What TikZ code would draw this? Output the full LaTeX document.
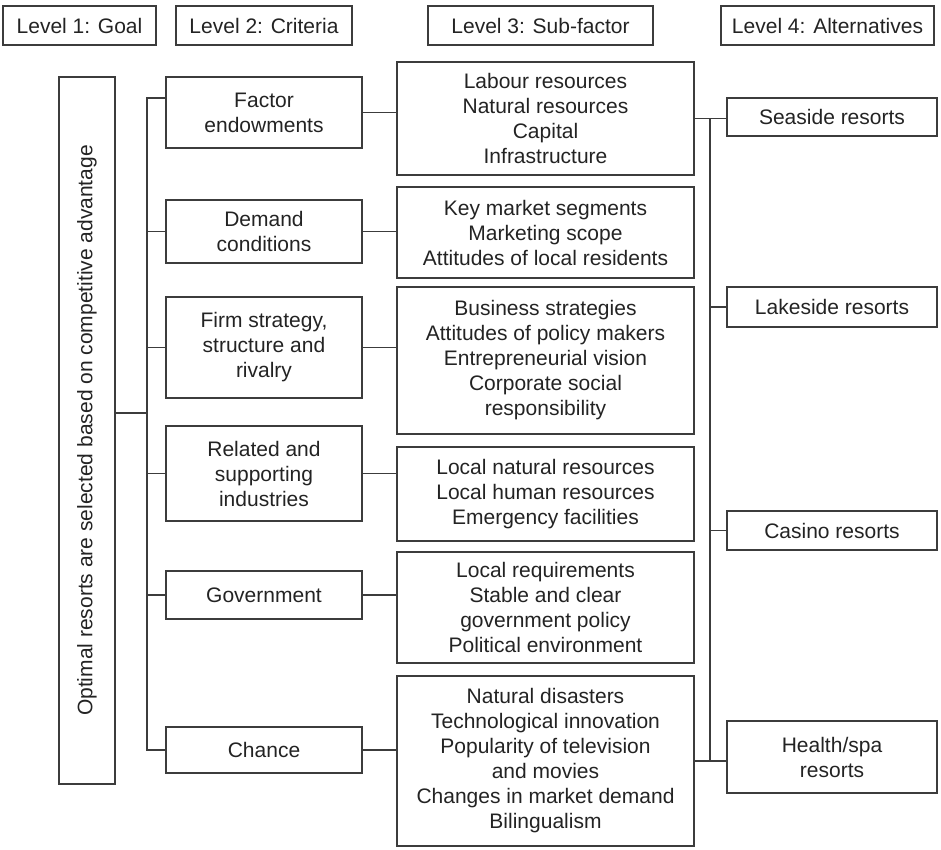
\documentclass[tikz,border=0pt]{standalone}
\usepackage{fontspec}
\setmainfont{Liberation Sans}
\definecolor{lngray}{RGB}{60,60,60}
\definecolor{txgray}{RGB}{35,35,35}
\usetikzlibrary{positioning,calc}

\begin{document}
\begin{tikzpicture}[
  x=1pt,y=-1pt,
  box/.style={draw=lngray,line width=1.1pt,inner sep=0pt,align=center,
    font=\fontsize{21}{25}\selectfont,text=txgray},
  lvl/.style={box,minimum height=39pt},
  crit/.style={box,minimum width=196pt},
  sub/.style={box,minimum width=297pt},
  alt/.style={box,minimum width=210pt},
  link/.style={draw=lngray,line width=1.1pt}
]
  \useasboundingbox (0,0) rectangle (941,849);
  % Level headers
  \node[lvl,minimum width=153pt] (lvl1) at (79.5,25.5) {Level 1: Goal};
  \node[lvl,minimum width=176pt] (lvl2) at (264,25.5) {Level 2: Criteria};
  \node[lvl,minimum width=225pt] (lvl3) at (540.5,25.5) {Level 3: Sub-factor};
  \node[lvl,minimum width=213pt] (lvl4) at (827.5,25.5) {Level 4: Alternatives};
  % Goal
  \node[box,rotate=90,minimum width=707pt,minimum height=56pt] (goal) at (87,430.5)
    {Optimal resorts are selected based on competitive advantage};
  % Criteria
  \node[crit,minimum height=71pt] (crit1) at (264,112.5) {Factor\\endowments};
  \node[crit,minimum height=63pt] (crit2) at (264,231.5) {Demand\\conditions};
  \node[crit,minimum height=101pt] (crit3) at (264,347.5) {Firm strategy,\\structure and\\rivalry};
  \node[crit,minimum height=95pt] (crit4) at (264,473.5) {Related and\\supporting\\industries};
  \node[crit,minimum height=48pt] (crit5) at (264,595) {Government};
  \node[crit,minimum height=46pt] (crit6) at (264,750) {Chance};
  % Sub-factors
  \node[sub,minimum height=113pt] (sub1) at (545.5,118.5)
    {Labour resources\\Natural resources\\Capital\\Infrastructure};
  \node[sub,minimum height=91pt] (sub2) at (545.5,232.5)
    {Key market segments\\Marketing scope\\Attitudes of local residents};
  \node[sub,minimum height=147pt] (sub3) at (545.5,360.5)
    {Business strategies\\Attitudes of policy makers\\Entrepreneurial vision\\Corporate social\\responsibility};
  \node[sub,minimum height=94pt] (sub4) at (545.5,494)
    {Local natural resources\\Local human resources\\Emergency facilities};
  \node[sub,minimum height=111pt] (sub5) at (545.5,607.5)
    {Local requirements\\Stable and clear\\government policy\\Political environment};
  \node[sub,minimum height=170pt] (sub6) at (545.5,761)
    {Natural disasters\\Technological innovation\\Popularity of television\\and movies\\Changes in market demand\\Bilingualism};
  % Alternatives
  \node[alt,minimum height=38pt] (alt1) at (832,117) {Seaside resorts};
  \node[alt,minimum height=40pt] (alt2) at (832,307) {Lakeside resorts};
  \node[alt,minimum height=39pt] (alt3) at (832,530.5) {Casino resorts};
  \node[alt,minimum height=72pt] (alt4) at (832,757) {Health/spa\\resorts};
  % Goal to criteria
  \coordinate (joinL) at (147,413);
  \coordinate (topL) at (147,98);
  \draw[link] (joinL -| goal.south) -- (joinL);
  \draw[link] (topL -| crit1.west) -- (topL) |- (crit6.west);
  \draw[link] (topL |- crit2.west) -- (crit2.west);
  \draw[link] (topL |- crit3.west) -- (crit3.west);
  \draw[link] (topL |- crit4.west) -- (crit4.west);
  \draw[link] (topL |- crit5.west) -- (crit5.west);
  % Criteria to sub-factors
  \draw[link] (crit1.east) -- (crit1.east -| sub1.west);
  \draw[link] (crit2.east) -- (crit2.east -| sub2.west);
  \draw[link] (crit3.east) -- (crit3.east -| sub3.west);
  \draw[link] (crit4.east) -- (crit4.east -| sub4.west);
  \draw[link] (crit5.east) -- (crit5.east -| sub5.west);
  \draw[link] (crit6.east) -- (crit6.east -| sub6.west);
  % Sub-factors to alternatives
  \coordinate (topR) at (710,118.5);
  \draw[link] (sub1.east) -- (sub1.east -| alt1.west);
  \draw[link] (topR) -- (topR |- sub6.east);
  \draw[link] (sub6.east) -- (sub6.east -| alt4.west);
  \draw[link] (topR |- alt2.west) -- (alt2.west);
  \draw[link] (topR |- alt3.west) -- (alt3.west);
\end{tikzpicture}
\end{document}
